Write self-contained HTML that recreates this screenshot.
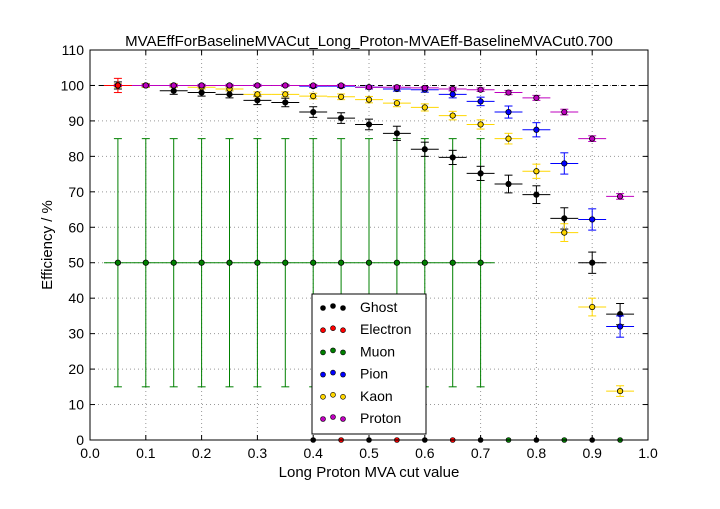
<!DOCTYPE html>
<html><head><meta charset="utf-8"><style>
body{margin:0;background:#fff;font-family:"Liberation Sans",sans-serif;}
svg text{font-family:"Liberation Sans",sans-serif;}
</style></head><body>
<svg id="c" width="720" height="504" xmlns="http://www.w3.org/2000/svg">
<rect width="720" height="504" fill="#fff"/>
<text x="369" y="46" font-size="15" text-anchor="middle">MVAEffForBaselineMVACut_Long_Proton-MVAEff-BaselineMVACut0.700</text>
<text x="369" y="477" font-size="15" text-anchor="middle">Long Proton MVA cut value</text>
<text x="52" y="245" font-size="15" text-anchor="middle" transform="rotate(-90 52 245)">Efficiency / %</text>
<g id="grid"></g><g id="marks"></g><g id="axes"></g>
</svg>
<script>
const xTicks=[0,0.1,0.2,0.3,0.4,0.5,0.6,0.7,0.8,0.9,1.0];
const yTicks=[0,10,20,30,40,50,60,70,80,90,100,110];
const cuts=[0.05,0.1,0.15,0.2,0.25,0.3,0.35,0.4,0.45,0.5,0.55,0.6,0.65,0.7,0.75,0.8,0.85,0.9,0.95];
const ghost=[100,100,98.5,98,97.5,95.8,95.2,92.5,90.8,89,86.5,82,79.7,75.2,72.2,69.2,62.5,50,35.5];
const ghostErr=[1,0.5,1,1,1,1.2,1.2,1.5,1.5,1.5,2,2,2,2,2.5,2.5,3,3,3];
const kaon=[100,100,100,99.5,99,97.5,97.5,97,96.8,96,95,93.8,91.5,89,85,75.8,58.5,37.5,13.8];
const kaonErr=[0.5,0.5,0.5,0.5,0.5,0.7,0.7,0.8,0.8,0.9,1,1,1.2,1.3,1.5,2,2.5,2.5,1.5];
const pion=[100,100,100,100,100,100,100,99.8,99.8,99.5,99,98.8,97.5,95.5,92.5,87.5,78,62.2,32];
const pionErr=[0.3,0.3,0.3,0.3,0.3,0.3,0.3,0.4,0.4,0.5,0.6,0.7,1,1.2,1.7,2,3,3,3];
const proton=[100,100,100,100,100,100,100,100,100,99.5,99.5,99.3,99,98.8,98,96.5,92.5,85,68.7];
const protonErr=[0.3,0.3,0.3,0.3,0.3,0.3,0.3,0.3,0.3,0.4,0.4,0.4,0.5,0.5,0.6,0.7,0.8,0.8,0.8];
const muonCuts=[0.05,0.1,0.15,0.2,0.25,0.3,0.35,0.4,0.45,0.5,0.55,0.6,0.65,0.7];
const muon=[50,50,50,50,50,50,50,50,50,50,50,50,50,50];
const muonErr=[35,35,35,35,35,35,35,35,35,35,35,35,35,35];
const electronCuts=[0.05];
const electron=[100];
const zeroCuts=[0.4,0.45,0.5,0.55,0.6,0.65,0.7,0.75,0.8,0.85,0.9,0.95];
const zeroColors=['#000','#f00','#000','#f00','#000','#f00','#000','#008000','#000','#008000','#000','#008000'];
const X0=90,X1=648,Y0=440,Y1=50;
const sx=v=>X0+(X1-X0)*v/1.0, sy=v=>Y0-(Y0-Y1)*v/110;
const NS='http://www.w3.org/2000/svg';
function mk(p,t,a){const e=document.createElementNS(NS,t);for(const k in a)e.setAttribute(k,a[k]);p.appendChild(e);return e;}
const G=document.getElementById('grid'),M=document.getElementById('marks'),A=document.getElementById('axes');
xTicks.forEach(t=>{if(t>0&&t<1){const l=mk(G,'line',{x1:sx(t),x2:sx(t),y1:Y0,y2:Y1,stroke:'#999','stroke-dasharray':'1,3'});
}
const tx=mk(A,'text',{x:sx(t),y:Y0+18,'font-size':14,'text-anchor':'middle'});tx.textContent=t.toFixed(1);

mk(A,'line',{x1:sx(t),x2:sx(t),y1:Y0,y2:Y0-5,stroke:'#000'});mk(A,'line',{x1:sx(t),x2:sx(t),y1:Y1,y2:Y1+5,stroke:'#000'});});
yTicks.forEach(t=>{if(t>0&&t<110){const l=mk(G,'line',{x1:X0,x2:X1,y1:sy(t),y2:sy(t),stroke:'#999','stroke-dasharray':'1,3'});
}
const tx=mk(A,'text',{x:X0-6,y:sy(t)+5,'font-size':14,'text-anchor':'end'});tx.textContent=t;

mk(A,'line',{x1:X0,x2:X0+5,y1:sy(t),y2:sy(t),stroke:'#000'});mk(A,'line',{x1:X1,x2:X1-5,y1:sy(t),y2:sy(t),stroke:'#000'});});
const ref=mk(G,'line',{x1:X0,x2:X1,y1:sy(100),y2:sy(100),stroke:'#000','stroke-dasharray':'5,4'});

const frame=mk(A,'rect',{x:X0,y:Y1,width:X1-X0,height:Y0-Y1,fill:'none',stroke:'#000'});

function series(name,xs,ys,errs,col,fill){const g=mk(M,'g',{});

xs.forEach((x,i)=>{const cx=sx(x),cy=sy(ys[i]),e=errs?errs[i]:1;
mk(g,'line',{x1:sx(x-0.025),x2:sx(x+0.025),y1:cy,y2:cy,stroke:col});
mk(g,'line',{x1:cx,x2:cx,y1:sy(ys[i]-e),y2:sy(ys[i]+e),stroke:col});
mk(g,'line',{x1:cx-4,x2:cx+4,y1:sy(ys[i]-e),y2:sy(ys[i]-e),stroke:col});
mk(g,'line',{x1:cx-4,x2:cx+4,y1:sy(ys[i]+e),y2:sy(ys[i]+e),stroke:col});
const c=mk(g,'circle',{cx:cx,cy:cy,r:2.7,fill:fill,stroke:'#000','stroke-width':0.8});
});}
series('muon',muonCuts,muon,muonErr,'#008000','#008000');
series('ghost',cuts,ghost,ghostErr,'#000','#000');
series('kaon',cuts,kaon,kaonErr,'#ffd700','#ffd700');
series('pion',cuts,pion,pionErr,'#0000ff','#0000ff');
series('proton',cuts,proton,protonErr,'#bf00bf','#bf00bf');
series('electron',electronCuts,electron,[2],'#f00','#f00');
zeroCuts.forEach((x,i)=>{const c=mk(M,'circle',{cx:sx(x),cy:sy(0),r:2.5,fill:zeroColors[i],stroke:'#000','stroke-width':0.6});
});
const leg=mk(A,'g',{});
mk(leg,'rect',{x:312,y:294,width:114,height:140,fill:'#fff',stroke:'#000'});
const names=['Ghost','Electron','Muon','Pion','Kaon','Proton'],cols=['#000','#f00','#008000','#00f','#ffd700','#bf00bf'];
names.forEach((n,i)=>{const y=307+i*22.2;const g=mk(leg,'g',{});

[[323,y+1],[333,y-1],[343,y+1]].forEach(p=>mk(g,'circle',{cx:p[0],cy:p[1],r:2.5,fill:cols[i],stroke:'#000','stroke-width':0.6}));
const t=mk(g,'text',{x:360,y:y+5,'font-size':14});t.textContent=n;});
</script>
</body></html>
